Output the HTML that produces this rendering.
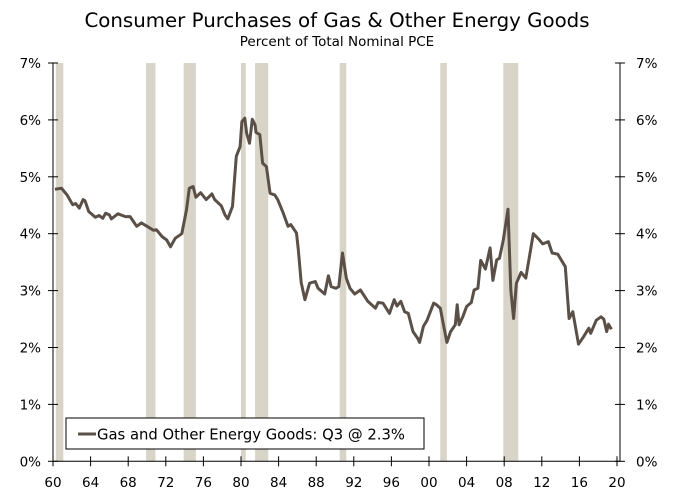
<!DOCTYPE html>
<html><head><meta charset="utf-8"><style>
body{margin:0;background:#fff;width:674px;height:499px;overflow:hidden;font-family:"DejaVu Sans","Liberation Sans",sans-serif}
</style></head><body>
<svg width="674" height="499" xmlns="http://www.w3.org/2000/svg" font-family="DejaVu Sans, Liberation Sans, sans-serif">
<text x="337" y="27" text-anchor="middle" font-size="19.8" fill="#000">Consumer Purchases of Gas &amp; Other Energy Goods</text>
<text x="337" y="46" text-anchor="middle" font-size="13.5" fill="#000">Percent of Total Nominal PCE</text>
<g id="rec"></g>
<g id="axes"></g>
<path id="line" fill="none" stroke="#5a5048" stroke-width="3" stroke-linejoin="round"/>
<g>
<rect x="66" y="418" width="358" height="31" fill="#fff" stroke="#000" stroke-width="1"/>
<line x1="78" y1="434" x2="96" y2="434" stroke="#5a5048" stroke-width="3"/>
<text x="97" y="439.5" font-size="14.8" fill="#000">Gas and Other Energy Goods: Q3 @ 2.3%</text>
</g>
</svg>
<script>
const years=[1960.2,1960.9,1961.5,1962.1,1962.4,1962.8,1963.2,1963.4,1963.8,1964.5,1964.9,1965.3,1965.6,1966.0,1966.2,1966.9,1967.7,1968.2,1968.9,1969.4,1970.0,1970.7,1971.0,1971.6,1972.1,1972.5,1973.0,1973.7,1974.2,1974.5,1974.9,1975.2,1975.7,1976.3,1976.9,1977.2,1977.9,1978.3,1978.6,1979.1,1979.5,1979.9,1980.1,1980.4,1980.6,1980.9,1981.2,1981.5,1981.6,1982.0,1982.3,1982.7,1983.1,1983.6,1983.9,1984.5,1985.0,1985.3,1985.9,1986.1,1986.4,1986.8,1987.3,1987.9,1988.2,1988.9,1989.3,1989.6,1990.1,1990.4,1990.8,1991.2,1991.6,1992.1,1992.7,1993.5,1994.3,1994.6,1995.1,1995.8,1996.3,1996.6,1997.0,1997.4,1997.8,1998.3,1998.8,1999.0,1999.4,1999.8,2000.5,2000.8,2001.2,2001.5,2001.9,2002.3,2002.8,2003.0,2003.2,2003.6,2004.0,2004.5,2004.8,2005.2,2005.5,2006.0,2006.5,2006.8,2007.2,2007.5,2007.9,2008.4,2008.7,2009.0,2009.3,2009.8,2010.3,2011.1,2011.7,2012.1,2012.7,2013.1,2013.7,2014.5,2014.9,2015.3,2015.9,2016.4,2017.0,2017.2,2017.8,2018.3,2018.6,2018.9,2019.1,2019.4];
const values=[4.78,4.80,4.68,4.51,4.53,4.45,4.60,4.58,4.39,4.29,4.32,4.27,4.36,4.33,4.26,4.35,4.30,4.30,4.13,4.19,4.13,4.06,4.07,3.95,3.89,3.77,3.92,4.00,4.42,4.80,4.83,4.64,4.72,4.60,4.70,4.60,4.49,4.33,4.26,4.48,5.36,5.53,5.97,6.03,5.77,5.59,6.01,5.91,5.78,5.74,5.24,5.18,4.71,4.68,4.60,4.36,4.13,4.16,4.01,3.72,3.14,2.84,3.13,3.16,3.04,2.94,3.26,3.07,3.04,3.07,3.66,3.22,3.04,2.94,3.01,2.81,2.69,2.79,2.78,2.60,2.84,2.73,2.81,2.63,2.60,2.28,2.16,2.09,2.37,2.48,2.78,2.75,2.69,2.43,2.09,2.28,2.40,2.75,2.40,2.54,2.72,2.79,3.01,3.04,3.53,3.38,3.75,3.18,3.54,3.57,3.89,4.43,3.01,2.51,3.13,3.32,3.22,4.00,3.90,3.82,3.86,3.66,3.64,3.42,2.51,2.63,2.06,2.18,2.34,2.25,2.48,2.54,2.50,2.28,2.41,2.32];
const recStart=[1960.3,1969.9,1973.9,1980.0,1981.5,1990.5,2001.2,2007.9];
const recEnd=[1961.1,1970.9,1975.2,1980.5,1982.9,1991.2,2001.9,2009.5];
const yTicks=[0,1,2,3,4,5,6,7];
const xTickLabels=["60","64","68","72","76","80","84","88","92","96","00","04","08","12","16","20"];
const NS="http://www.w3.org/2000/svg";
const X0=53,X1=620,Y0=461.3,YT=63;
function xs(y){return 53+(y-1960)*9.4;}
function ys(v){return Y0-(v/7)*(Y0-YT);}
function mk(t,a,p){const e=document.createElementNS(NS,t);for(const k in a)e.setAttribute(k,a[k]);p.appendChild(e);return e;}
const rec=document.getElementById('rec');
recStart.forEach((s,i)=>{const r=mk('rect',{x:xs(s),y:YT,width:xs(recEnd[i])-xs(s),height:Y0-YT,fill:'#d8d4c8'},rec);

});
const ax=document.getElementById('axes');
mk('line',{x1:X0,y1:YT,x2:X0,y2:Y0,stroke:'#000'},ax);
mk('line',{x1:X1,y1:YT,x2:X1,y2:Y0,stroke:'#000'},ax);
mk('line',{x1:X0,y1:Y0,x2:X1,y2:Y0,stroke:'#000'},ax);
yTicks.forEach(v=>{const y=ys(v);
mk('line',{x1:X0-5,y1:y,x2:X0+5,y2:y,stroke:'#000'},ax);
mk('line',{x1:X1-5,y1:y,x2:X1+5,y2:y,stroke:'#000'},ax);
const l=mk('text',{x:X0-12,y:y+5,'text-anchor':'end','font-size':13.5},ax);l.textContent=v+'%';


const r=mk('text',{x:X1+16,y:y+5,'font-size':13.5},ax);r.textContent=v+'%';

});
xTickLabels.forEach((t,i)=>{const x=xs(1960+4*i);
mk('line',{x1:x,y1:Y0-5,x2:x,y2:Y0+5,stroke:'#000'},ax);
const l=mk('text',{x:x,y:487,'text-anchor':'middle','font-size':13.5},ax);l.textContent=t;

});
document.getElementById('line').setAttribute('d',years.map((y,i)=>(i?'L':'M')+xs(y).toFixed(1)+' '+ys(values[i]).toFixed(1)).join(' '));
</script>
</body></html>
